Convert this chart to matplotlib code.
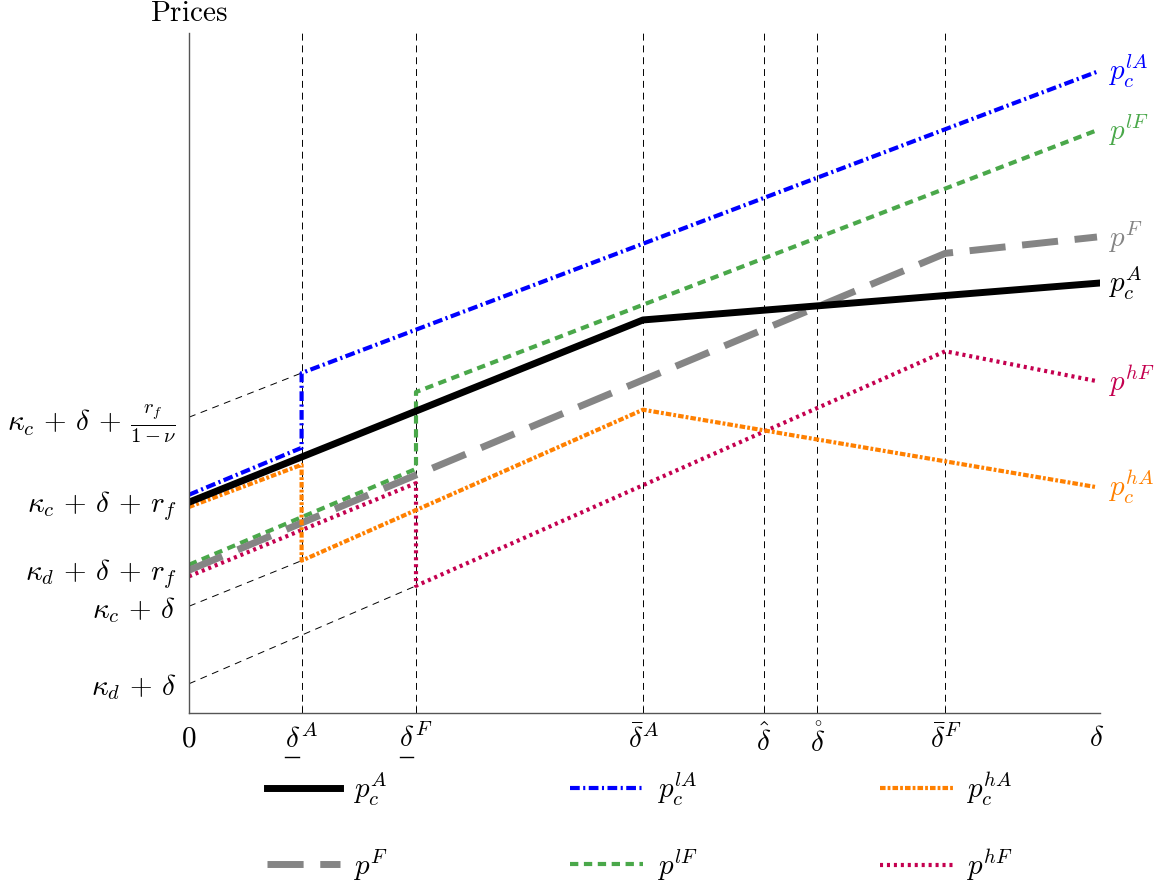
import numpy as np
import matplotlib
matplotlib.use("Agg")
import matplotlib.pyplot as plt
import matplotlib.transforms as mtransforms

plt.rcParams['mathtext.fontset'] = 'cm'
plt.rcParams['font.family'] = 'DejaVu Serif'
plt.rcParams['lines.scale_dashes'] = False

# x positions of the thresholds (delta axis scaled 0..100)
d_uA, d_uF, d_bA, d_hat, d_ring, d_bF, d_max = 12.4, 25.0, 50.0, 63.3, 69.2, 83.3, 100.0
thresholds = [d_uA, d_uF, d_bA, d_hat, d_ring, d_bF]
tick_labels = [r'$\delta^A$', r'$\delta^F$', r'$\bar{\delta}^A$',
               r'$\hat{\delta}$', r'$\mathring{\delta}$', r'$\bar{\delta}^F$']
underlined = [d_uA, d_uF]

# price paths (x, y)
pA_x = [0, d_bA, d_max];               pA_y = [31.0, 57.8, 63.2]
plA_x = [0, d_uA, d_uA, d_max];        plA_y = [32.1, 39.0, 50.0, 94.3]
phA_x = [0, d_uA, d_uA, d_bA, d_max];  phA_y = [30.3, 36.5, 22.4, 44.6, 33.2]
pF_x = [0, d_uF, d_bF, d_max];         pF_y = [21.0, 35.0, 67.6, 70.0]
plF_x = [0, d_uF, d_uF, d_max];        plF_y = [21.8, 35.9, 47.2, 85.7]
phF_x = [0, d_uF, d_uF, d_bF, d_max];  phF_y = [20.1, 33.8, 18.7, 53.2, 48.8]

# thin guide lines
guides = [([0, d_uA], [43.5, 50.0]), ([0, d_uA], [15.7, 22.4]), ([0, d_uF], [4.3, 18.7])]
ytick_pos = [43.5, 31.2, 21.2, 15.7, 4.3]
ytick_lab = [r'$\kappa_c\,+\,\delta\,+\,\frac{r_f}{1-\nu}$', r'$\kappa_c\,+\,\delta\,+\,r_f$',
             r'$\kappa_d\,+\,\delta\,+\,r_f$', r'$\kappa_c\,+\,\delta$', r'$\kappa_d\,+\,\delta$']

blue, green, gray, orange, red = '#0000ff', '#4aa84a', '#858585', '#ff8000', '#c4004f'
fs = 21

fig = plt.figure(figsize=(11.65, 8.89), dpi=100)
ax = fig.add_axes([189/1165, 176/889, 911/1165, 680/889])
ax.set_xlim(0, 100.33)
ax.set_ylim(0, 100)

for x in thresholds:
    ax.plot([x, x], [0, 100], color='black', lw=0.7, dashes=(5, 3.5))
for gx, gy in guides:
    ax.plot(gx, gy, color='black', lw=0.7, dashes=(5, 4))

l_plA, = ax.plot(plA_x, plA_y, color=blue, lw=3, dashes=(7, 2.5, 1.5, 2.5))
l_plF, = ax.plot(plF_x, plF_y, color=green, lw=3, dashes=(6, 4))
l_pF, = ax.plot(pF_x, pF_y, color=gray, lw=5, dashes=(26, 12))
l_phF, = ax.plot(phF_x, phF_y, color=red, lw=3, dashes=(2.2, 2.8))
l_phA, = ax.plot(phA_x, phA_y, color=orange, lw=3, dashes=(4, 1.5, 2, 1.5))
l_pA, = ax.plot(pA_x, pA_y, color='black', lw=5)

# right-hand labels
rlabels = [(94.3, r'$p_c^{lA}$', blue), (85.7, r'$p^{lF}$', green), (70.0, r'$p^F$', gray),
           (63.2, r'$p_c^A$', 'black'), (48.8, r'$p^{hF}$', red), (33.2, r'$p_c^{hA}$', orange)]
for y, s, c in rlabels:
    ax.text(101.2, y, s, color=c, fontsize=fs, va='center', ha='left', clip_on=False)

for s in ['top', 'right']:
    ax.spines[s].set_visible(False)
for s in ['left', 'bottom']:
    ax.spines[s].set_color('#555555')
    ax.spines[s].set_linewidth(1.0)

ax.set_xticks([0] + thresholds + [d_max])
ax.set_xticklabels([r'$0$'] + tick_labels + [r'$\delta$'], fontsize=fs)
ax.tick_params(axis='x', direction='in', length=6, width=0.6, pad=8, color='#555555')
xt = ax.xaxis.get_major_ticks()
xt[0].tick1line.set_visible(False)
xt[-1].tick1line.set_visible(False)
ax.set_yticks(ytick_pos)
ax.set_yticklabels(ytick_lab, fontsize=fs)
ax.tick_params(axis='y', length=0, pad=9)

# underline bars for the lower thresholds
trans = mtransforms.blended_transform_factory(ax.transData, fig.transFigure)
for x in underlined:
    ax.plot([x - 1.8, x - 0.3], [0.1485, 0.1485], color='black', lw=1.0,
            transform=trans, clip_on=False)

ax.text(0, 102.9, r'$\mathrm{Prices}$', fontsize=fs, ha='center', va='center', clip_on=False)

handles = [l_pA, l_pF, l_plA, l_plF, l_phA, l_phF]
labels = [r'$p_c^A$', r'$p^F$', r'$p_c^{lA}$', r'$p^{lF}$', r'$p_c^{hA}$', r'$p^{hF}$']
ax.legend(handles, labels, ncol=3, loc='upper left', bbox_to_anchor=(0.086, -0.085),
          frameon=False, fontsize=fs, handlelength=2.5, handletextpad=0.45,
          columnspacing=6.25, labelspacing=1.35, borderpad=0, borderaxespad=0)

fig.savefig('out.png', dpi=100)
